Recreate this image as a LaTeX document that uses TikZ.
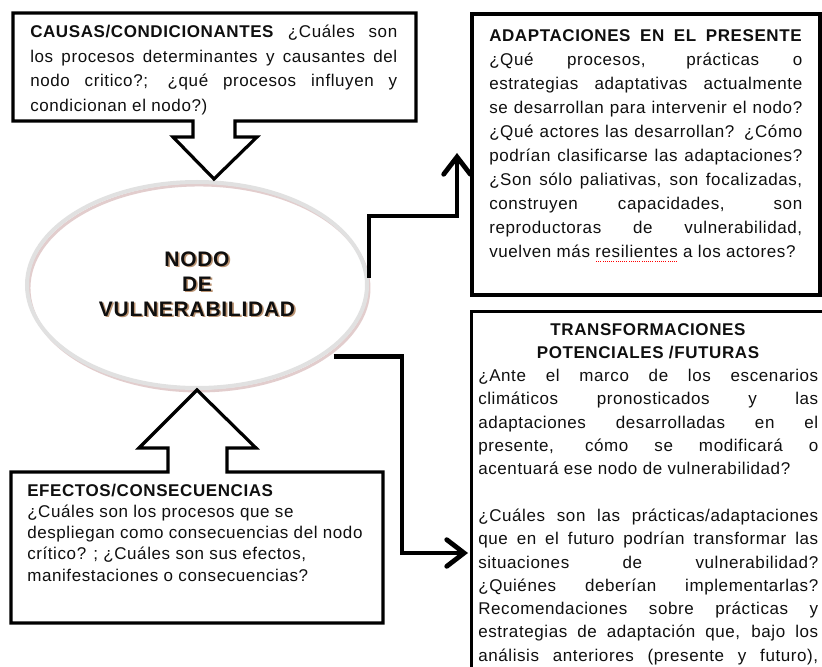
\documentclass[tikz,border=0pt]{standalone}
\usepackage{fontspec}
\setmainfont{Liberation Sans}[LetterSpace=3.5]
\usetikzlibrary{arrows.meta,shapes.geometric}
\newcommand\px[1]{\dimexpr #1pt*3/4\relax}
\newcommand\jl[1]{\hbox to\hsize{#1}}
\newcommand\nl[1]{\hbox{#1}}
\newcommand\squig[1]{\setbox0\hbox{#1}\rlap{\raisebox{-3.5pt}{\hbox to\wd0{\color{red}\xleaders\hbox to 1.6pt{\hss\vrule width 0.7pt height 0.7pt\hss}\hfill}}}\box0\relax}
\definecolor{ink}{RGB}{15,15,15}
\definecolor{ringc}{RGB}{225,225,225}
\definecolor{ringsh}{RGB}{215,185,185}
\definecolor{txtsh}{RGB}{150,90,40}
\tikzset{
  frame/.style={draw=black,line width=2.4pt,line join=miter},
  txt/.style={inner sep=0pt,text=ink,font=\fontsize{12.75pt}{18pt}\selectfont},
  conn/.style={draw=black,line width=3.6pt,line join=miter,
    -{Straight Barb[length=13pt,width=20pt,line cap=round]}},
  bigtxt/.style={inner sep=0pt,align=center,font=\fontsize{15.75pt}{18.75pt}\selectfont\bfseries}
}
\begin{document}
\begin{tikzpicture}[x=0.75pt,y=-0.75pt]
\useasboundingbox (0,0) rectangle (822,667);
\clip (0,0) rectangle (822,667);
\fill[white] (0,0) rectangle (822,667);

% ellipse (node of vulnerability)
\node[ellipse,draw=ringsh,line width=2.2pt,minimum width=255pt,minimum height=154.5pt,opacity=0.7] (nodosh) at (199,288) {};
\node[ellipse,draw=ringc,line width=3pt,minimum width=255pt,minimum height=154.5pt] (nodo) at (197,285) {};
\node[bigtxt,text=txtsh,opacity=0.65] (nodotsh) at (198.6,285.6) {NODO\\DE\\VULNERABILIDAD};
\node[bigtxt,text=ink] (nodot) at (197,284) {NODO\\DE\\VULNERABILIDAD};

% causas callout
\draw[frame] (13,13) -- (416,13) -- (416,121) -- (235,121) -- (235,137) -- (257,137) -- (214,179) -- (173,137) -- (193,137) -- (193,121) -- (13,121) -- cycle;
\node[txt,anchor=base west] (caus) at (30,38) {\vtop{\hsize=\px{367}\baselineskip=\px{24.5}\relax
\jl{\textbf{CAUSAS/CONDICIONANTES} ¿Cuáles son}
\jl{los procesos determinantes y causantes del}
\jl{nodo critico?; ¿qué procesos influyen y}
\nl{condicionan el nodo?)}}};

% efectos callout
\draw[frame] (11,472) -- (168,472) -- (168,448) -- (139,448) -- (197,390) -- (256,448) -- (227,448) -- (227,472) -- (383,472) -- (383,623) -- (11,623) -- cycle;
\node[txt,anchor=base west] (efec) at (27,496) {\vtop{\hsize=\px{350}\baselineskip=\px{21.25}\relax
\nl{\textbf{EFECTOS/CONSECUENCIAS}}
\nl{¿Cuáles son los procesos que se}
\nl{despliegan como consecuencias del nodo}
\nl{crítico? ; ¿Cuáles son sus efectos,}
\nl{manifestaciones o consecuencias?}}};

% adaptaciones box
\node[frame,rectangle,minimum width=261pt,minimum height=210.75pt] (adap) at (646,154.5) {};
\node[txt,anchor=base west] (adapt) at (489,42) {\vtop{\hsize=\px{313}\baselineskip=\px{23.9}\relax
\jl{\textbf{ADAPTACIONES EN EL PRESENTE}}
\jl{¿Qué procesos, prácticas o}
\jl{estrategias adaptativas actualmente}
\jl{se desarrollan para intervenir el nodo?}
\jl{¿Qué actores las desarrollan? ¿Cómo}
\jl{podrían clasificarse las adaptaciones?}
\jl{¿Son sólo paliativas, son focalizadas,}
\jl{construyen capacidades, son}
\jl{reproductoras de vulnerabilidad,}
\nl{vuelven más \squig{resilientes} a los actores?}}};

% transformaciones box
\node[frame,rectangle,anchor=north west,minimum width=270pt,minimum height=285pt] (trans) at (470,310) {};
\node[txt,anchor=base west] (transt) at (478,335) {\vtop{\hsize=\px{340}\baselineskip=\px{23.3}\relax
\jl{\hfil\textbf{TRANSFORMACIONES}\hfil}
\jl{\hfil\textbf{POTENCIALES /FUTURAS}\hfil}
\jl{¿Ante el marco de los escenarios}
\jl{climáticos pronosticados y las}
\jl{adaptaciones desarrolladas en el}
\jl{presente, cómo se modificará o}
\nl{acentuará ese nodo de vulnerabilidad?}
\nl{}
\jl{¿Cuáles son las prácticas/adaptaciones}
\jl{que en el futuro podrían transformar las}
\jl{situaciones de vulnerabilidad?}
\jl{¿Quiénes deberían implementarlas?}
\jl{Recomendaciones sobre prácticas y}
\jl{estrategias de adaptación que, bajo los}
\jl{análisis anteriores (presente y futuro),}}};

% connectors
\coordinate (b1) at (457,216);
\coordinate (a1) at (457,153);
\draw[conn] ([yshift=5.25pt]nodo.east) |- (b1) -- (a1);
\coordinate (b2) at (402,553);
\coordinate (a2) at (468,553);
\draw[conn] ([yshift=-6pt]nodo.-25) -| (b2) -- (a2);
\end{tikzpicture}
\end{document}
